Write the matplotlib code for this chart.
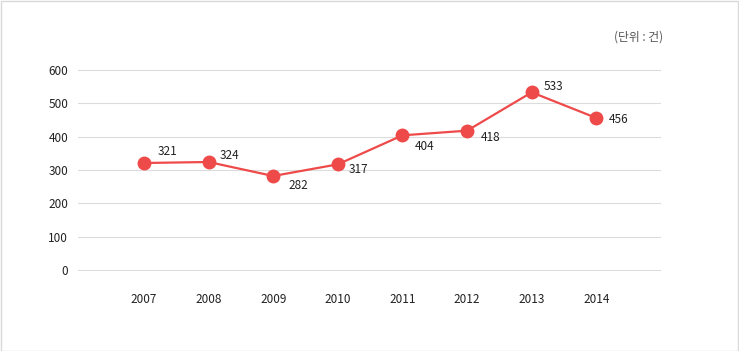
import matplotlib.pyplot as plt
from matplotlib.patches import Rectangle

plt.rcParams['font.family'] = ['Noto Sans CJK KR', 'DejaVu Sans']

years = ['2007', '2008', '2009', '2010', '2011', '2012', '2013', '2014']
counts = [321, 324, 282, 317, 404, 418, 533, 456]
y_ticks = [0, 100, 200, 300, 400, 500, 600]
unit_label = '(단위 : 건)'

# label offsets in points (dx, dy) per point
offsets = [(17, 8), (15, 5), (18, -7), (15, -4), (16, -8), (17, -5), (16, 4), (16, -1)]

W, H = 739, 351
fig = plt.figure(figsize=(W / 100, H / 100), dpi=100)
fig.patches.append(Rectangle((0.5 / W, 0.5 / H), 1 - 1.5 / W, 1 - 1.5 / H,
                             transform=fig.transFigure, fill=False,
                             edgecolor='#d9d9d9', linewidth=1))

ax = fig.add_axes([78 / W, (351 - 271) / H, (661 - 78) / W, 202 / H])
x = list(range(len(years)))
red = '#ef4a4a'
ax.plot(x, counts, color=red, linewidth=1.6, marker='o', markersize=10,
        markeredgewidth=0, zorder=3)
for xi, v, (dx, dy) in zip(x, counts, offsets):
    ax.annotate(str(v), (xi, v), xytext=(dx, dy), textcoords='offset points',
                ha='center', va='center', fontsize=8.5, color='#222222')

ax.set_xlim(-1.02, 8.0)
ax.set_ylim(-3, 603)
ax.set_yticks(y_ticks)
ax.set_xticks(x)
ax.set_xticklabels(years)
ax.grid(axis='y', color='#dcdcdc', linewidth=0.8)
ax.set_axisbelow(True)
for s in ax.spines.values():
    s.set_visible(False)
ax.tick_params(length=0, labelsize=8.5, colors='#222222')
ax.tick_params(axis='y', pad=7)
ax.tick_params(axis='x', pad=16)

fig.text(663 / W, 1 - 37 / H, unit_label, ha='right', va='center',
         fontsize=8.5, color='#555555')

fig.savefig('out.png', dpi=100)
